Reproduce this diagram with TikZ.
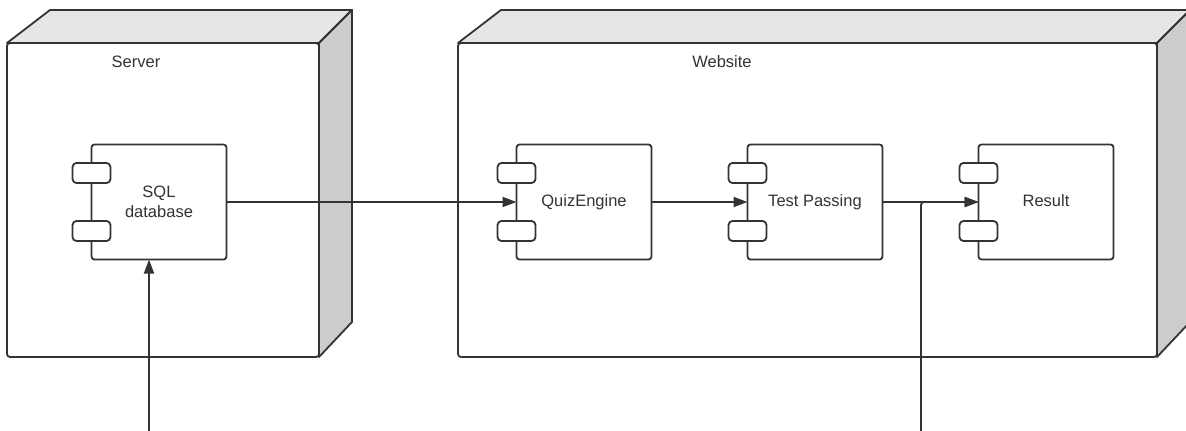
\documentclass[tikz,border=0pt]{standalone}
\usepackage{fontspec}
\setmainfont{Liberation Sans}
\usetikzlibrary{positioning,arrows.meta,calc}
\definecolor{edge}{HTML}{333333}
\definecolor{topface}{HTML}{E6E6E6}
\definecolor{sideface}{HTML}{CCCCCC}

\begin{document}
\begin{tikzpicture}[x=1pt,y=-1pt,
    font=\fontsize{16.5}{20}\selectfont, text=edge,
    line width=1.8pt, line join=round,
    cube/.style={draw=edge, fill=white, rounded corners=3pt, inner sep=0pt, outer sep=0pt, minimum height=314pt},
    component/.style={draw=edge, fill=white, rounded corners=3pt, inner sep=0pt, outer sep=0pt, minimum width=135pt, minimum height=115pt, align=center, text height=12pt, text depth=3.5pt},
    port/.style={draw=edge, fill=white, rounded corners=4pt, inner sep=0pt, minimum width=38pt, minimum height=20pt},
    flow/.style={draw=edge, -{Triangle[length=14pt,width=10pt]}}
    ]
    \path[use as bounding box, clip] (0,0) rectangle (1186,431);

    % the two deployment nodes, front face first
    \node[cube, minimum width=312pt] (server) at (163,200) {};
    \node[cube, minimum width=699pt] (website) at (807.5,200) {};
    \foreach \n in {server,website} {
        \path[draw=edge, fill=topface]
        (\n.north west) -- ++(43,-33) -- ([shift={(33,-33)}]\n.north east) -- (\n.north east) -- cycle;
        \path[draw=edge, fill=sideface]
        (\n.north east) -- ++(33,-33) -- ([shift={(33,-35)}]\n.south east) -- (\n.south east) -- cycle;
    }
    \node (serverlbl) at (136,62) {Server};
    \node (websitelbl) at (722,62) {Website};

    % components
    \node[component, text height={}, text depth={}] (sql) at (159,202) {SQL\\database};
    \node[component] (quiz) at (584,202) {QuizEngine};
    \node[component, right=96pt of quiz] (test) {Test Passing};
    \node[component, right=96pt of test] (result) {Result};

    % the two little tabs on each component
    \foreach \c in {sql,quiz,test,result} {
        \node[port] (\c top) at ([yshift=29pt]\c.west) {};
        \node[port] (\c bot) at ([yshift=-29pt]\c.west) {};
    }

    % connectors
    \coordinate (dbin) at (149,440);
    \coordinate (resin) at (921,440);
    \draw[flow] (sql) -- (quiz);
    \draw[flow] (quiz) -- (test);
    \draw[flow] (test) -- (result);
    \draw[flow] (dbin) -- (dbin |- sql.south);
    \draw[flow, rounded corners=3pt] (resin) |- (result.west);
\end{tikzpicture}
\end{document}
